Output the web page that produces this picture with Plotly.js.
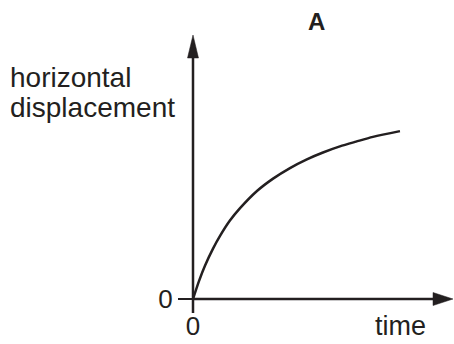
<!DOCTYPE html>
<html>
<head>
<meta charset="utf-8">
<script src="https://cdn.plot.ly/plotly-3.0.1.min.js"></script>
<style>html,body{margin:0;padding:0;background:#fff;}#chart{width:454px;height:344px;}</style>
</head>
<body>
<div id="chart"></div>
<script>
// Data (arbitrary units)
const time = [0, 0.23, 0.46, 0.77, 1.04, 1.42, 1.81, 2.46, 3.08, 3.73, 4.38, 5.00, 5.65, 6.27, 6.92, 7.96];
const displacement = [0, 0.68, 1.26, 1.91, 2.39, 2.97, 3.44, 4.09, 4.56, 4.96, 5.29, 5.55, 5.78, 5.96, 6.14, 6.36];
const xTickVals = [0];
const xTickText = ['0'];
const yTickVals = [0];
const yTickText = ['0'];
const chartTitle = 'A';
const yLabelLines = ['horizontal', 'displacement'];
const xLabel = 'time';

const W = 454, H = 344;
const M = {l: 193, r: 1, t: 35, b: 45};
const PW = W - M.l - M.r, PH = H - M.t - M.b;
const ink = '#231f20';
const font = 'Liberation Sans, Arial, Helvetica, sans-serif';
const px2x = p => (p - M.l) / PW;
const px2y = p => (H - M.b - p) / PH;

// arrowheads (paper coords)
const xArrLen = 20, xArrHalf = 6.5, yArrLen = 23, yArrHalf = 5.5;
const xTip = 1, xBase = 1 - xArrLen / PW, xHalf = xArrHalf / PH;
const yTip = 1, yBase = 1 - yArrLen / PH, yHalf = yArrHalf / PW;
const tickLen = 14;

const shapes = [
  {type: 'line', xref: 'paper', yref: 'paper', x0: 0, y0: 0, x1: xBase + 0.01, y1: 0, line: {color: ink, width: 2.5}},
  {type: 'line', xref: 'paper', yref: 'paper', x0: 0, y0: -tickLen / PH, x1: 0, y1: yBase + 0.01, line: {color: ink, width: 2.5}},
  {type: 'path', xref: 'paper', yref: 'paper',
   path: `M ${xTip} 0 L ${xBase} ${xHalf} L ${xBase} ${-xHalf} Z`, fillcolor: ink, line: {color: ink, width: 0.5}},
  {type: 'path', xref: 'paper', yref: 'paper',
   path: `M 0 ${yTip} L ${yHalf} ${yBase} L ${-yHalf} ${yBase} Z`, fillcolor: ink, line: {color: ink, width: 0.5}}
];

const annotations = [
  {text: '<b>' + chartTitle + '</b>', xref: 'paper', yref: 'paper', x: px2x(316), y: px2y(22),
   xanchor: 'center', yanchor: 'middle', showarrow: false, font: {family: font, size: 24, color: ink}},
  {text: yLabelLines[0], xref: 'paper', yref: 'paper', x: px2x(8), y: px2y(77),
   xanchor: 'left', yanchor: 'middle', showarrow: false, font: {family: font, size: 28, color: ink}},
  {text: yLabelLines[1], xref: 'paper', yref: 'paper', x: px2x(8), y: px2y(107),
   xanchor: 'left', yanchor: 'middle', showarrow: false, font: {family: font, size: 28, color: ink}},
  {text: xLabel, xref: 'paper', yref: 'paper', x: px2x(400), y: px2y(326),
   xanchor: 'center', yanchor: 'middle', showarrow: false, font: {family: font, size: 27, color: ink}}
];

const trace = {
  x: time, y: displacement, type: 'scatter', mode: 'lines',
  line: {color: ink, width: 2.5, shape: 'spline', smoothing: 0.8},
  cliponaxis: false, hoverinfo: 'skip'
};

const layout = {
  width: W, height: H, margin: M,
  paper_bgcolor: '#fff', plot_bgcolor: '#fff',
  showlegend: false,
  xaxis: {range: [0, 10], fixedrange: true, showgrid: false, zeroline: false, showline: false,
    tickmode: 'array', tickvals: xTickVals, ticktext: xTickText,
    ticks: 'outside', ticklen: 4, tickwidth: 2.5, tickcolor: ink,
    tickfont: {family: font, size: 26, color: ink}},
  yaxis: {range: [0, 10], fixedrange: true, showgrid: false, zeroline: false, showline: false,
    tickmode: 'array', tickvals: yTickVals, ticktext: yTickText,
    ticks: 'outside', ticklen: tickLen, tickwidth: 2.5, tickcolor: ink,
    tickfont: {family: font, size: 26, color: ink}},
  shapes: shapes,
  annotations: annotations
};

Plotly.newPlot('chart', [trace], layout, {staticPlot: true, displayModeBar: false});
</script>
</body>
</html>
